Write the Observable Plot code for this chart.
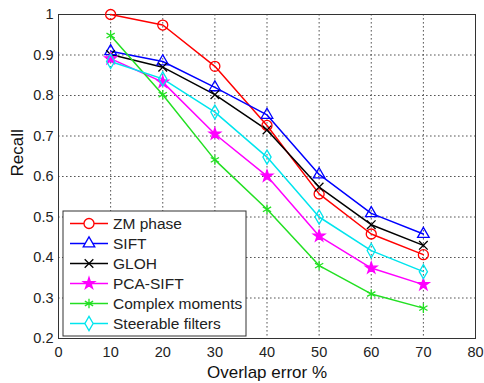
<!DOCTYPE html>
<html><head><meta charset="utf-8">
<script src="https://cdn.jsdelivr.net/npm/d3@7"></script>
<script src="https://cdn.jsdelivr.net/npm/@observablehq/plot@0.6"></script>
<style>
body{margin:0;background:#fff;}
#chart svg{font-family:"Liberation Sans",Arial,sans-serif;}
</style>
</head><body><div id="chart"></div>
<script>
const overlap = [10, 20, 30, 40, 50, 60, 70];
const seriesNames = ["ZM phase", "SIFT", "GLOH", "PCA-SIFT", "Complex moments", "Steerable filters"];
const zmPhase   = [1.000, 0.974, 0.872, 0.726, 0.557, 0.458, 0.407];
const sift      = [0.909, 0.884, 0.820, 0.752, 0.605, 0.509, 0.458];
const gloh      = [0.901, 0.870, 0.802, 0.715, 0.574, 0.481, 0.430];
const pcaSift   = [0.891, 0.833, 0.705, 0.601, 0.453, 0.374, 0.333];
const complexM  = [0.948, 0.802, 0.641, 0.519, 0.380, 0.310, 0.275];
const steerable = [0.884, 0.841, 0.759, 0.648, 0.500, 0.417, 0.365];
const xTicks = [0, 10, 20, 30, 40, 50, 60, 70, 80];
const yTicks = [0.2, 0.3, 0.4, 0.5, 0.6, 0.7, 0.8, 0.9, 1];

const seriesValues = [zmPhase, sift, gloh, pcaSift, complexM, steerable];
const colors  = ["#ff0000", "#0000ff", "#000000", "#ff00ff", "#22e022", "#00e5ee"];
const symbols = ["circle", "triangle", "times", "star", "asterisk", "diamond"];
const fills   = ["none", "none", "none", "#ff00ff", "none", "none"];
const radii   = [5, 4.3, 4, 3.6, 4.5, 4.3];

const data = [];
seriesNames.forEach((name, i) => overlap.forEach((x, j) => data.push({name, x, y: seriesValues[i][j]})));

const W = 484, H = 383;
const plot = Plot.plot({
  width: W, height: H,
  marginLeft: 58, marginRight: 9, marginTop: 14, marginBottom: 45,
  style: {fontFamily: "Liberation Sans, Arial, sans-serif", fontSize: "14px", color: "#222", background: "#fff"},
  x: {domain: [0, 80], label: null},
  y: {domain: [0.2, 1], label: null},
  marks: [
    Plot.gridX(xTicks, {stroke: "#444", strokeOpacity: 0.9, strokeDasharray: "1.6,2.4", strokeWidth: 1}),
    Plot.gridY(yTicks, {stroke: "#444", strokeOpacity: 0.9, strokeDasharray: "1.6,2.4", strokeWidth: 1}),
    Plot.frame({stroke: "#333", strokeWidth: 1}),
    ...seriesNames.map((name, i) => Plot.line(data.filter(d => d.name === name), {x: "x", y: "y", stroke: colors[i], strokeWidth: 1.5})),
    ...seriesNames.map((name, i) => Plot.dot(data.filter(d => d.name === name), {x: "x", y: "y", symbol: () => symbols[i], stroke: colors[i], fill: fills[i], r: radii[i], strokeWidth: 1.3})),
    Plot.axisX({tickSize: 0, tickPadding: 8, ticks: xTicks, tickFormat: d => String(d), fontSize: 14.5, label: null}),
    Plot.axisY({tickSize: 0, tickPadding: 5, ticks: yTicks, tickFormat: d => String(d), fontSize: 14.5, label: null}),
    Plot.text(["Overlap error %"], {frameAnchor: "bottom", dy: 39, fontSize: 17, fill: "#111"}),
    Plot.text(["Recall"], {frameAnchor: "left", dx: -41, rotate: -90, fontSize: 17, fill: "#111"})
  ]
});
document.getElementById("chart").appendChild(plot);

// Legend (layout only), drawn in the plot's SVG
const svg = d3.select(plot.tagName.toLowerCase() === "svg" ? plot : plot.querySelector("svg"));
const lg = svg.append("g").attr("transform", "translate(63,211)").attr("text-anchor", "start");
lg.append("rect").attr("width", 183).attr("height", 125).attr("fill", "#fff").attr("stroke", "#333").attr("stroke-width", 1);
const symMap = {circle: d3.symbolCircle, triangle: d3.symbolTriangle, times: d3.symbolTimes, star: d3.symbolStar, asterisk: d3.symbolAsterisk, diamond: d3.symbolDiamond};
seriesNames.forEach((name, i) => {
  const row = lg.append("g").attr("transform", `translate(0,${12.5 + i * 20})`);
  row.append("line").attr("x1", 7).attr("x2", 45).attr("y1", 0).attr("y2", 0).attr("stroke", colors[i]).attr("stroke-width", 1.5);
  row.append("path").attr("transform", "translate(26,0)")
    .attr("d", d3.symbol(symMap[symbols[i]], Math.PI * radii[i] * radii[i])())
    .attr("stroke", colors[i]).attr("fill", fills[i] === "none" ? "#fff" : fills[i]).attr("stroke-width", 1.3);
  row.append("text").attr("x", 50).attr("y", 0).attr("dy", "0.35em").attr("text-anchor", "start")
    .attr("font-size", 15.5).attr("fill", "#222").text(name);
});
</script>
</body></html>
